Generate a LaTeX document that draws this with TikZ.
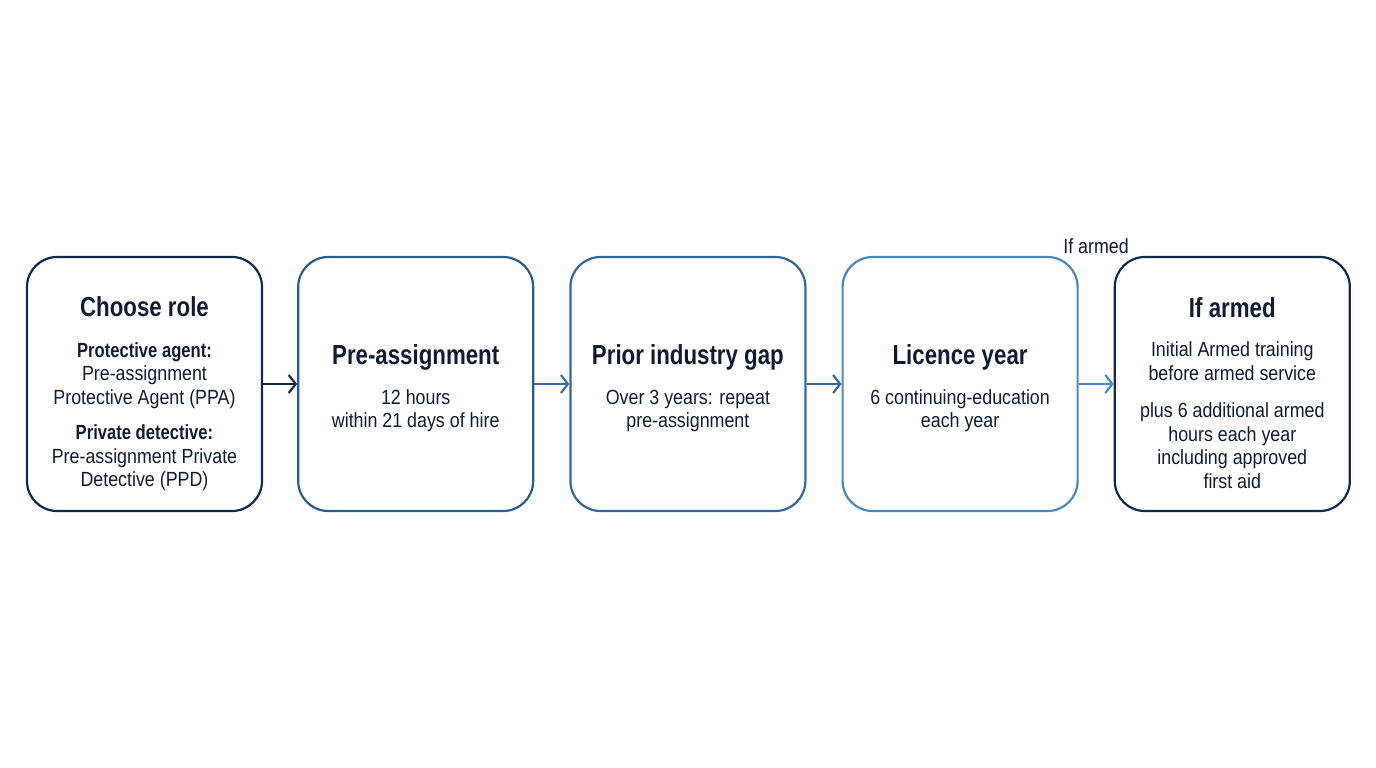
\documentclass[tikz,border=0pt]{standalone}
\usepackage{fontspec}
\setmainfont{Liberation Sans}[FakeStretch=0.87, BoldFeatures={FakeStretch=0.81}]
\usetikzlibrary{positioning,arrows.meta}
\definecolor{navy}{HTML}{13284A}
\definecolor{ink}{HTML}{0E1B35}
\definecolor{blueA}{HTML}{2B5C91}
\definecolor{blueB}{HTML}{3167A1}
\definecolor{blueC}{HTML}{4A88C5}
\definecolor{arrB}{HTML}{3A70AA}
\tikzset{
  stagebox/.style={draw, rounded corners=30pt, line width=2.2pt,
    minimum width=235pt, minimum height=254pt, inner sep=0pt},
  stagetext/.style={align=center, text=ink, inner sep=0pt,
    font=\fontsize{20.5}{23.5}\selectfont},
  flow/.style={line width=2.2pt, -{Straight Barb[length=7pt,width=18pt]}},
}
\newcommand{\ttl}[1]{{\fontsize{27.5}{30}\selectfont\bfseries #1}}
\begin{document}
\begin{tikzpicture}[x=1pt,y=-1pt]
  \useasboundingbox (0,0) rectangle (1376,768);
  \node[stagebox, draw=navy]  (b1) at (144.5,384) {};
  \node[stagebox, draw=blueA] (b2) [right=34pt of b1] {};
  \node[stagebox, draw=blueB] (b3) [right=35pt of b2] {};
  \node[stagebox, draw=blueC] (b4) [right=35pt of b3] {};
  \node[stagebox, draw=navy]  (b5) [right=35pt of b4] {};
  % box contents
  \node[stagetext] (t1) at ([yshift=-10pt]b1.center) {\ttl{Choose role}\\[17pt]
    \textbf{Protective agent:}\\ Pre-assignment\\ Protective Agent (PPA)\\[12pt]
    \textbf{Private detective:}\\ Pre-assignment Private\\ Detective (PPD)};
  \node[stagetext] (t2) at ([yshift=-4.5pt]b2.center) {\ttl{Pre-assignment}\\[16pt]
    12 hours\\ within 21 days of hire};
  \node[stagetext] (t3) at ([yshift=-4.5pt]b3.center) {\ttl{Prior industry gap}\\[16pt]
    Over 3 years: repeat\\ pre-assignment};
  \node[stagetext] (t4) at ([yshift=-4.5pt]b4.center) {\ttl{Licence year}\\[16pt]
    6 continuing-education\\ each year};
  \node[stagetext] (t5) at ([yshift=-9pt]b5.center) {\ttl{If armed}\\[16pt]
    Initial Armed training\\ before armed service\\[14pt]
    plus 6 additional armed\\ hours each year\\ including approved\\ first aid};
  % connectors
  \draw[flow, navy]  (b1) -- (b2);
  \draw[flow, arrB]  (b2) -- (b3);
  \draw[flow, blueB] (b3) -- (b4);
  \draw[flow, blueC] (b4) -- (b5);
  \node[stagetext] (arm) at (1096,246) {If armed};
\end{tikzpicture}
\end{document}
